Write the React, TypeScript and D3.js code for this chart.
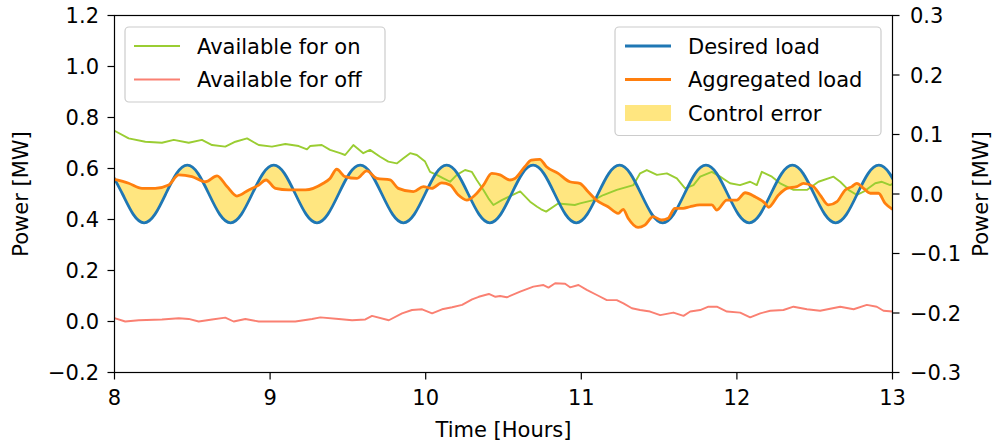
import React from 'react';
import * as d3 from 'd3';

const xTicks = [8, 9, 10, 11, 12, 13];
const leftTicks = [-0.2, 0.0, 0.2, 0.4, 0.6, 0.8, 1.0, 1.2];
const rightTicks = [-0.3, -0.2, -0.1, 0.0, 0.1, 0.2, 0.3];

// Available for on (green)
const onTimes = [8.0, 8.091, 8.198, 8.305, 8.381, 8.477, 8.562, 8.627, 8.712, 8.777, 8.852, 8.927, 9.012, 9.098, 9.184, 9.237, 9.257, 9.332, 9.385, 9.45, 9.482, 9.535, 9.599, 9.642, 9.707, 9.76, 9.814, 9.857, 9.9, 9.943, 9.996, 10.028, 10.071, 10.114, 10.157, 10.2, 10.253, 10.296, 10.328, 10.371, 10.403, 10.435, 10.489, 10.532, 10.607, 10.671, 10.716, 10.742, 10.774, 10.851, 10.958, 10.992, 11.078, 11.142, 11.228, 11.335, 11.378, 11.421, 11.486, 11.55, 11.614, 11.667, 11.721, 11.764, 11.839, 11.892, 11.956, 12.02, 12.085, 12.128, 12.16, 12.225, 12.278, 12.364, 12.45, 12.524, 12.621, 12.664, 12.717, 12.771, 12.814, 12.889, 12.932, 12.985, 13.0];
const onValues = [0.748, 0.718, 0.705, 0.701, 0.712, 0.701, 0.712, 0.692, 0.686, 0.705, 0.718, 0.692, 0.686, 0.696, 0.688, 0.675, 0.688, 0.692, 0.673, 0.66, 0.653, 0.692, 0.66, 0.673, 0.646, 0.627, 0.62, 0.64, 0.66, 0.653, 0.627, 0.587, 0.575, 0.561, 0.548, 0.575, 0.594, 0.587, 0.555, 0.516, 0.483, 0.457, 0.476, 0.489, 0.51, 0.47, 0.45, 0.44, 0.431, 0.463, 0.457, 0.463, 0.476, 0.496, 0.516, 0.535, 0.581, 0.594, 0.575, 0.581, 0.561, 0.522, 0.535, 0.568, 0.587, 0.568, 0.542, 0.535, 0.548, 0.535, 0.587, 0.568, 0.542, 0.516, 0.516, 0.548, 0.568, 0.548, 0.516, 0.496, 0.509, 0.542, 0.548, 0.535, 0.54];

// Available for off (red)
const offTimes = [8.0, 8.069, 8.156, 8.305, 8.413, 8.477, 8.541, 8.627, 8.712, 8.766, 8.841, 8.927, 9.056, 9.162, 9.27, 9.323, 9.441, 9.527, 9.612, 9.655, 9.763, 9.848, 9.912, 9.977, 10.041, 10.105, 10.17, 10.234, 10.298, 10.341, 10.406, 10.448, 10.478, 10.521, 10.607, 10.692, 10.757, 10.789, 10.832, 10.896, 10.928, 10.982, 11.035, 11.1, 11.164, 11.228, 11.271, 11.325, 11.378, 11.442, 11.507, 11.592, 11.657, 11.7, 11.764, 11.817, 11.871, 11.936, 12.021, 12.085, 12.15, 12.214, 12.299, 12.364, 12.45, 12.535, 12.664, 12.75, 12.835, 12.899, 12.942, 13.0];
const offValues = [0.013, 0.0, 0.005, 0.008, 0.013, 0.01, 0.0, 0.008, 0.015, 0.0, 0.01, 0.0, 0.0, 0.0, 0.01, 0.016, 0.01, 0.005, 0.008, 0.022, 0.005, 0.032, 0.045, 0.048, 0.032, 0.048, 0.056, 0.065, 0.087, 0.097, 0.108, 0.097, 0.1, 0.095, 0.117, 0.137, 0.143, 0.133, 0.15, 0.148, 0.134, 0.143, 0.124, 0.104, 0.084, 0.084, 0.071, 0.052, 0.045, 0.039, 0.025, 0.035, 0.022, 0.039, 0.045, 0.058, 0.058, 0.039, 0.035, 0.016, 0.032, 0.042, 0.045, 0.058, 0.048, 0.042, 0.058, 0.048, 0.065, 0.058, 0.042, 0.039];

// Aggregated load (orange)
const aggTimes = [8.0, 8.091, 8.177, 8.262, 8.348, 8.413, 8.498, 8.584, 8.659, 8.723, 8.787, 8.863, 8.927, 8.974, 9.034, 9.12, 9.227, 9.342, 9.385, 9.428, 9.482, 9.557, 9.621, 9.686, 9.771, 9.824, 9.921, 9.985, 10.039, 10.103, 10.157, 10.21, 10.264, 10.317, 10.371, 10.425, 10.478, 10.542, 10.573, 10.637, 10.679, 10.733, 10.776, 10.851, 10.926, 10.99, 11.044, 11.097, 11.172, 11.237, 11.269, 11.301, 11.365, 11.408, 11.462, 11.515, 11.558, 11.601, 11.655, 11.698, 11.762, 11.839, 11.871, 11.935, 11.999, 12.053, 12.117, 12.182, 12.203, 12.267, 12.321, 12.385, 12.428, 12.492, 12.535, 12.589, 12.643, 12.696, 12.739, 12.771, 12.814, 12.857, 12.91, 12.953, 13.0];
const aggValues = [0.557, 0.542, 0.522, 0.522, 0.535, 0.575, 0.568, 0.548, 0.571, 0.529, 0.492, 0.516, 0.535, 0.555, 0.522, 0.516, 0.516, 0.542, 0.561, 0.597, 0.568, 0.561, 0.591, 0.561, 0.555, 0.522, 0.509, 0.529, 0.522, 0.544, 0.535, 0.496, 0.476, 0.496, 0.535, 0.581, 0.575, 0.555, 0.561, 0.607, 0.633, 0.636, 0.607, 0.581, 0.548, 0.542, 0.509, 0.476, 0.45, 0.424, 0.44, 0.405, 0.369, 0.378, 0.411, 0.398, 0.405, 0.444, 0.444, 0.45, 0.457, 0.457, 0.437, 0.476, 0.476, 0.505, 0.489, 0.463, 0.448, 0.496, 0.522, 0.529, 0.542, 0.529, 0.496, 0.457, 0.47, 0.516, 0.529, 0.542, 0.522, 0.503, 0.503, 0.463, 0.44];

// Desired load (blue), sampled on a uniform grid of 1/8 of its period
const desiredStart = 7.9819;
const desiredStep = 0.069444;
const desiredValues = [
  0.580, 0.500, 0.420, 0.387, 0.420, 0.500, 0.580, 0.613,
  0.580, 0.500, 0.420, 0.387, 0.420, 0.500, 0.580, 0.613,
  0.580, 0.500, 0.420, 0.387, 0.420, 0.500, 0.580, 0.613,
  0.580, 0.500, 0.420, 0.387, 0.420, 0.500, 0.580, 0.613,
  0.580, 0.500, 0.420, 0.387, 0.420, 0.500, 0.580, 0.613,
  0.580, 0.500, 0.420, 0.387, 0.420, 0.500, 0.580, 0.613,
  0.580, 0.500, 0.420, 0.387, 0.420, 0.500, 0.580, 0.613,
  0.580, 0.500, 0.420, 0.387, 0.420, 0.500, 0.580, 0.613,
  0.580, 0.500, 0.420, 0.387, 0.420, 0.500, 0.580, 0.613,
  0.580, 0.500,
];

const legendLeft = ['Available for on', 'Available for off'];
const legendRight = ['Desired load', 'Aggregated load', 'Control error'];

const W = 995;
const H = 445;
const L = 114.5;
const R = 892.5;
const T = 15.5;
const B = 372.5;
const FONT = 'DejaVu Sans, Liberation Sans, sans-serif';
const FS = 21;

const C_ON = '#9acd32';
const C_OFF = '#fa8072';
const C_DES = '#1f77b4';
const C_AGG = '#ff7f0e';
const C_FILL = '#ffe680';

function fmt(v: number): string {
  const s = v.toFixed(1);
  return s.startsWith('-') ? '\u2212' + s.slice(1) : s;
}

export default function App() {
  const x = d3.scaleLinear().domain([8, 13]).range([L, R]);
  const yL = d3.scaleLinear().domain([-0.2, 1.2]).range([B, T]);
  const yR = d3.scaleLinear().domain([-0.3, 0.3]).range([B, T]);

  const line = d3.line<[number, number]>();
  const onPts = onTimes.map((t, i) => [x(t), yL(onValues[i])] as [number, number]);
  const offPts = offTimes.map((t, i) => [x(t), yL(offValues[i])] as [number, number]);
  const aggPts = aggTimes.map((t, i) => [x(t), yL(aggValues[i])] as [number, number]);
  const desPts = desiredValues.map((v, i) => [x(desiredStart + i * desiredStep), yL(v)] as [number, number]);

  const aggLine = d3.line<[number, number]>().curve(d3.curveMonotoneX);
  const desLine = d3.line<[number, number]>().curve(d3.curveNatural);

  const aggPath = aggLine(aggPts) || '';
  const desPath = desLine(desPts) || '';
  const desRev = desLine(desPts.slice().reverse()) || '';
  const fillPath = aggPath + 'L' + desRev.slice(1) + 'Z';

  const tickLen = 7;

  return (
    <svg width={W} height={H} style={{ position: 'absolute', left: 0, top: 0, background: '#fff' }} fontFamily={FONT}>
      <defs>
        <clipPath id="plotclip">
          <rect x={L} y={T} width={R - L} height={B - T} />
        </clipPath>
      </defs>
      <rect x={0} y={0} width={W} height={H} fill="#fff" />
      <g clipPath="url(#plotclip)">
        <path d={fillPath} fill={C_FILL} stroke="none" />
        <path d={line(onPts) || ''} fill="none" stroke={C_ON} strokeWidth={1.9} strokeLinejoin="round" />
        <path d={line(offPts) || ''} fill="none" stroke={C_OFF} strokeWidth={1.9} strokeLinejoin="round" />
        <path d={desPath} fill="none" stroke={C_DES} strokeWidth={2.8} />
        <path d={aggPath} fill="none" stroke={C_AGG} strokeWidth={2.8} strokeLinejoin="round" />
      </g>

      {/* frame */}
      <rect x={L} y={T} width={R - L} height={B - T} fill="none" stroke="#000" strokeWidth={1.2} />

      {/* x axis */}
      {xTicks.map((t) => (
        <g key={'x' + t}>
          <line x1={x(t)} x2={x(t)} y1={B} y2={B + tickLen} stroke="#000" strokeWidth={1.2} />
          <text x={x(t)} y={B + 32} fontSize={FS} textAnchor="middle">{t}</text>
        </g>
      ))}
      <text x={(L + R) / 2} y={437} fontSize={FS} textAnchor="middle">Time [Hours]</text>

      {/* left axis */}
      {leftTicks.map((v) => (
        <g key={'l' + v}>
          <line x1={L - tickLen} x2={L} y1={yL(v)} y2={yL(v)} stroke="#000" strokeWidth={1.2} />
          <text x={99} y={yL(v)} dy="0.36em" fontSize={FS} textAnchor="end">{fmt(v)}</text>
        </g>
      ))}
      <text transform={`translate(28,${(T + B) / 2}) rotate(-90)`} fontSize={FS} textAnchor="middle">Power [MW]</text>

      {/* right axis */}
      {rightTicks.map((v) => (
        <g key={'r' + v}>
          <line x1={R} x2={R + tickLen} y1={yR(v)} y2={yR(v)} stroke="#000" strokeWidth={1.2} />
          <text x={910} y={yR(v)} dy="0.36em" fontSize={FS} textAnchor="start">{fmt(v)}</text>
        </g>
      ))}
      <text transform={`translate(988,${(T + B) / 2}) rotate(-90)`} fontSize={FS} textAnchor="middle">Power [MW]</text>

      {/* left legend */}
      <rect x={125} y={27} width={260} height={75} rx={4} fill="#fff" fillOpacity={0.8} stroke="#cccccc" strokeWidth={1.2} />
      {legendLeft.map((name, i) => {
        const yy = 46 + i * 33.5;
        return (
          <g key={name}>
            <line x1={134} x2={180} y1={yy} y2={yy} stroke={i === 0 ? C_ON : C_OFF} strokeWidth={1.9} />
            <text x={197} y={yy} dy="0.36em" fontSize={FS}>{name}</text>
          </g>
        );
      })}

      {/* right legend */}
      <rect x={615} y={27} width={266} height={108.5} rx={4} fill="#fff" fillOpacity={0.8} stroke="#cccccc" strokeWidth={1.2} />
      {legendRight.map((name, i) => {
        const yy = 46 + i * 33.5;
        return (
          <g key={name}>
            {i < 2 ? (
              <line x1={625} x2={671} y1={yy} y2={yy} stroke={i === 0 ? C_DES : C_AGG} strokeWidth={2.8} />
            ) : (
              <rect x={625} y={yy - 8} width={46} height={16} fill={C_FILL} />
            )}
            <text x={688} y={yy} dy="0.36em" fontSize={FS}>{name}</text>
          </g>
        );
      })}
    </svg>
  );
}
